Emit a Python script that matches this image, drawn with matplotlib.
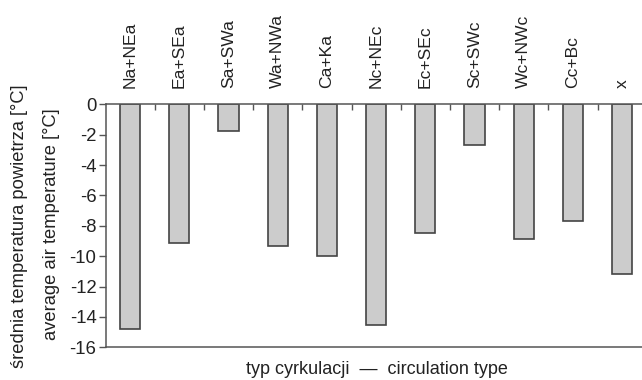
import numpy as np
import matplotlib
matplotlib.use('Agg')
import matplotlib.pyplot as plt

plt.rcParams['font.family'] = ['Liberation Sans', 'DejaVu Sans']

# Circulation types and mean air temperature
categories = ['Na+NEa', 'Ea+SEa', 'Sa+SWa', 'Wa+NWa', 'Ca+Ka',
              'Nc+NEc', 'Ec+SEc', 'Sc+SWc', 'Wc+NWc', 'Cc+Bc', 'x']
temperature = [-14.8, -9.1, -1.75, -9.3, -10.0,
               -14.5, -8.45, -2.7, -8.9, -7.7, -11.15]
y_ticks = [0, -2, -4, -6, -8, -10, -12, -14, -16]

text_col = '#222222'
line_col = '#555555'

fig = plt.figure(figsize=(6.42, 3.80), dpi=100)
ax = fig.add_axes([105.5 / 642, 32.7 / 380, 541.2 / 642, 243.0 / 380])

x = np.arange(len(categories))
ax.bar(x, temperature, width=0.41, color='#cccccc', edgecolor='#444444', linewidth=1.2, zorder=2)

ax.set_xlim(-0.5, len(categories) - 0.5)
ax.set_ylim(-16, 0)

# y axis
ax.set_yticks(y_ticks)
ax.set_yticklabels([str(v) for v in y_ticks])
ax.tick_params(axis='y', direction='out', length=5, width=1.0, color=line_col,
               labelsize=13.3, labelcolor=text_col, pad=1.5)

# category labels on top, boundary ticks pointing down
ax.xaxis.tick_top()
ax.set_xticks(x)
ax.set_xticklabels(categories, rotation=90)
ax.set_xticks(np.arange(0.5, len(categories) - 0.5, 1.0), minor=True)
ax.tick_params(axis='x', which='major', length=0, labelsize=12.6, labelcolor=text_col, pad=12)
ax.tick_params(axis='x', which='minor', direction='in', length=4.3, width=1.0, color=line_col)

for side in ['top', 'bottom', 'left']:
    ax.spines[side].set_color(line_col)
    ax.spines[side].set_linewidth(1.1)
ax.spines['right'].set_visible(False)

fig.text(20 / 642, 1 - 226 / 380, 'średnia temperatura powietrza [°C]', rotation=90,
         ha='center', va='center', fontsize=13.2, color=text_col)
fig.text(52 / 642, 1 - 224 / 380, 'average air temperature [°C]', rotation=90,
         ha='center', va='center', fontsize=13.2, color=text_col)
fig.text(377 / 642, 1 - 369 / 380, 'typ cyrkulacji  —  circulation type',
         ha='center', va='center', fontsize=13, color=text_col)

fig.savefig('out.png', dpi=100)
